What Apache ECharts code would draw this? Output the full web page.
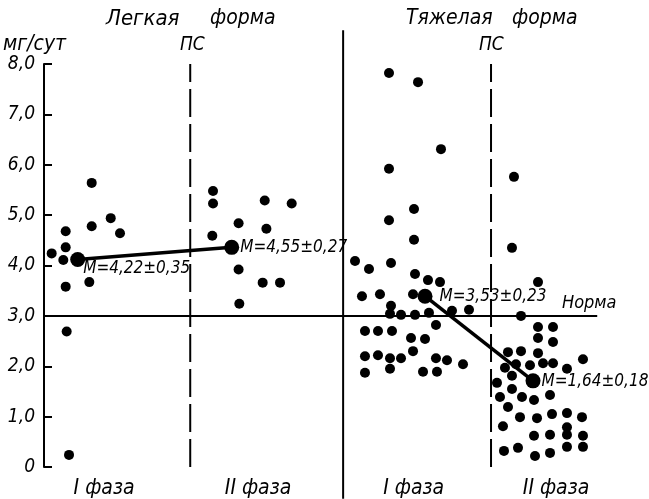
<!DOCTYPE html>
<html><head><meta charset="utf-8">
<script src="https://cdn.jsdelivr.net/npm/echarts@6/dist/echarts.min.js"></script>
<style>html,body{margin:0;padding:0;background:#fff}#c{width:649px;height:499px}</style>
</head><body><div id="c"></div>
<script>
// ---- data ----
const yMin = 0, yMax = 8, yStep = 1;                 // мг/сут
const phaseLabels = ['I фаза', 'II фаза', 'I фаза', 'II фаза'];
const phaseLabelX = [10.8, 38.5, 66.5, 92.1];        // horizontal position units (0..100)
const psX = [26.3, 80.4];                            // ПС boundaries
const formDividerX = 53.8;                           // light | heavy form divider
const normValue = 3.0;

const lightIx  = [8.58, 12.0, 8.58, 3.9, 13.67, 3.9, 1.38, 3.47, 8.15, 3.9, 4.08, 4.5];
const lightIy  = [5.64, 4.94, 4.78, 4.68, 4.64, 4.36, 4.24, 4.11, 3.67, 3.58, 2.69, 0.24];

const lightIIx = [30.4, 30.4, 39.7, 44.55, 35.0, 40.0, 30.27, 35.0, 39.33, 42.45, 35.13];
const lightIIy = [5.48, 5.23, 5.29, 5.23, 4.84, 4.73, 4.59, 3.92, 3.66, 3.66, 3.24];

const heavyIx  = [62.05,67.27,71.4,62.05,66.55,62.05,66.55,55.94,58.45,62.41,66.73,69.06,71.22,57.19,60.43,66.37,62.41,62.23,64.21,66.73,69.24,73.38,76.44,70.5,57.73,60.07,62.59,66.01,68.53,66.37,57.73,60.07,62.23,64.21,70.5,72.48,75.36,57.73,62.23,68.17,70.68];
const heavyIy  = [7.82,7.64,6.31,5.92,5.12,4.90,4.51,4.09,3.93,4.05,3.83,3.71,3.67,3.39,3.43,3.43,3.20,3.04,3.02,3.02,3.06,3.10,3.12,2.82,2.70,2.70,2.70,2.56,2.54,2.30,2.20,2.22,2.16,2.16,2.16,2.12,2.04,1.87,1.95,1.89,1.89];

const heavyIIx = [84.53,84.17,88.85,85.79,88.85,91.55,88.85,91.55,83.45,85.79,88.85,96.94,82.91,84.89,87.41,89.75,91.55,94.06,81.47,84.17,82.01,84.17,85.97,88.13,91.01,83.45,85.61,88.67,91.37,94.06,96.76,82.55,94.06,88.13,91.01,94.06,96.94,82.73,85.25,88.31,91.01,94.06,96.94];
const heavyIIy = [5.76,4.35,3.67,3.00,2.78,2.78,2.56,2.48,2.28,2.30,2.26,2.14,1.97,2.04,2.02,2.06,2.06,1.95,1.67,1.81,1.39,1.55,1.39,1.33,1.43,1.19,0.99,0.97,1.05,1.07,0.99,0.81,0.79,0.62,0.64,0.64,0.62,0.32,0.38,0.22,0.28,0.40,0.40];

const meanX = [6.06, 33.76, 68.53, 87.95];
const meanY = [4.12, 4.36, 3.39, 1.71];
const meanLabels = ['M=4,22±0,35', 'M=4,55±0,27', 'M=3,53±0,23', 'M=1,64±0,18'];

// ---- chart ----
const FONT = "'DejaVu Sans Condensed','DejaVu Sans',sans-serif";
const INK = '#000';
const zip = (xs, ys) => xs.map((x, i) => [x, ys[i]]);
const dot = (name, xs, ys) => ({
  name, type: 'scatter', data: zip(xs, ys), symbolSize: 10,
  itemStyle: { color: INK, opacity: 1 }, z: 5
});
const labelOffsets = [[-7, 9], [-4, 0], [2, 0], [-4, 1]];
const vline = (x, y0, y1, type) => ({
  type: 'line', data: [[x, y0], [x, y1]], symbol: 'none', clip: false, silent: true,
  lineStyle: { color: INK, width: 2, type: type }, z: 2
});
const txt = (text, left, top, size) => ({
  type: 'text', left, top, style: { text, font: `italic ${size}px ${FONT}`, fill: INK }
});

const chart = echarts.init(document.getElementById('c'), null, { renderer: 'canvas' });
chart.setOption({
  animation: false,
  backgroundColor: '#fff',
  grid: { left: 44, right: 49, top: 64, bottom: 32 },
  xAxis: {
    type: 'value', min: 0, max: 100,
    axisLine: { show: false }, axisTick: { show: false }, splitLine: { show: false },
    axisLabel: {
      customValues: phaseLabelX,
      formatter: v => { const i = phaseLabelX.indexOf(v); return i >= 0 ? phaseLabels[i] : ''; },
      margin: 11, color: INK, fontFamily: FONT, fontStyle: 'italic', fontSize: 21
    }
  },
  yAxis: {
    type: 'value', min: yMin, max: yMax, interval: yStep,
    axisLine: { show: true, lineStyle: { color: INK, width: 2 } },
    axisTick: { show: true, inside: true, length: 8, lineStyle: { color: INK, width: 2 } },
    splitLine: { show: false },
    axisLabel: {
      formatter: v => v === 0 ? '0' : v.toFixed(1).replace('.', ','),
      margin: 9, color: INK, fontFamily: FONT, fontStyle: 'italic', fontSize: 19
    }
  },
  graphic: [
    txt('мг/сут', 3, 34, 21),
    txt('Легкая', 106, 8, 22),
    txt('форма', 210, 8, 21),
    txt('Тяжелая', 406, 8, 21),
    txt('форма', 512, 8, 21),
    txt('ПС', 180, 36, 19),
    txt('ПС', 479, 36, 19),
    txt('Норма', 562, 294, 18)
  ],
  series: [
    vline(formDividerX, -0.63, 8.67, 'solid'),
    ...psX.map(x => vline(x, yMin, yMax, [28, 7])),
    { type: 'line', data: [[0, normValue], [99.5, normValue]], symbol: 'none', silent: true,
      lineStyle: { color: INK, width: 2 }, z: 2 },
    { type: 'line', data: [[meanX[0], meanY[0]], [meanX[1], meanY[1]]], symbol: 'none',
      lineStyle: { color: INK, width: 3.5 }, z: 3 },
    { type: 'line', data: [[meanX[2], meanY[2]], [meanX[3], meanY[3]]], symbol: 'none',
      lineStyle: { color: INK, width: 3.5 }, z: 3 },
    dot('Легкая I', lightIx, lightIy),
    dot('Легкая II', lightIIx, lightIIy),
    dot('Тяжелая I', heavyIx, heavyIy),
    dot('Тяжелая II', heavyIIx, heavyIIy),
    {
      name: 'M', type: 'scatter', symbolSize: 15, itemStyle: { color: INK, opacity: 1 }, z: 6,
      data: meanX.map((x, i) => ({
        value: [x, meanY[i]],
        label: { show: true, position: 'right', offset: labelOffsets[i], formatter: meanLabels[i],
                 color: INK, fontFamily: FONT, fontStyle: 'italic', fontSize: 17 }
      }))
    }
  ]
});
</script></body></html>
